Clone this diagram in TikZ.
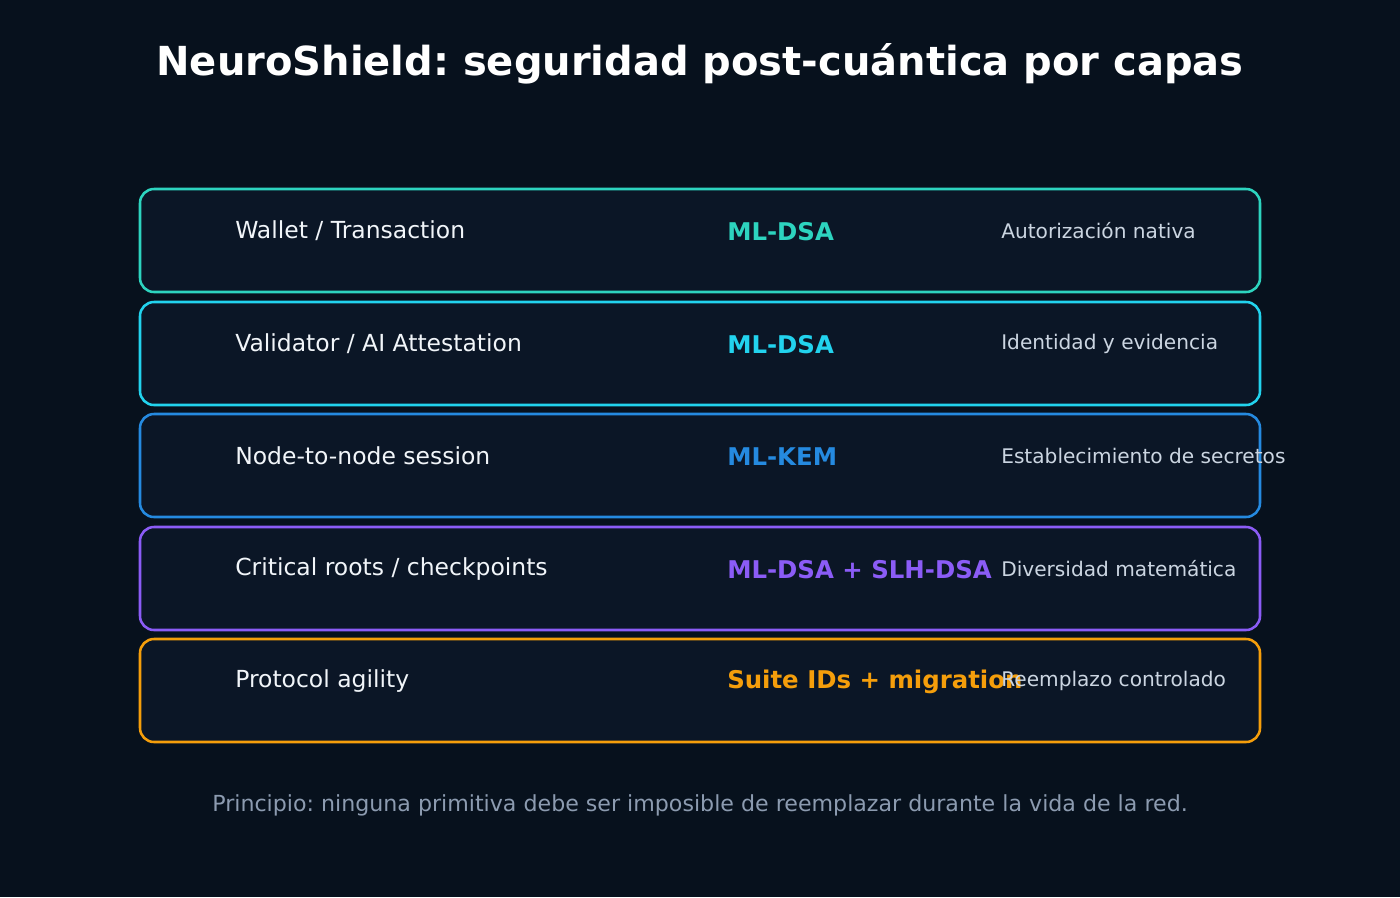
\documentclass[tikz,border=0pt]{standalone}
\usepackage{fontspec}
\setmainfont{DejaVu Sans}
\frenchspacing
\definecolor{bg}{HTML}{07111D}
\definecolor{boxfill}{HTML}{0B1626}
\definecolor{cteal}{HTML}{2DD4BF}
\definecolor{ccyan}{HTML}{22D3EE}
\definecolor{cblue}{HTML}{258AE0}
\definecolor{cpurple}{HTML}{8B5CF6}
\definecolor{corange}{HTML}{F59E0B}
\definecolor{txtmain}{HTML}{F1F5F9}
\definecolor{txtright}{HTML}{CBD5E1}
\definecolor{txtfoot}{HTML}{8C9BB0}
\begin{document}
\begin{tikzpicture}[x=0.75pt,y=-0.75pt,
  layer/.style={draw=#1,line width=1.9pt,fill=boxfill,rounded corners=10.5pt},
  lname/.style={anchor=west,inner sep=0pt,text=txtmain,font=\fontsize{17.6}{21}\selectfont},
  lalgo/.style={anchor=west,inner sep=0pt,text=#1,font=\fontsize{18.3}{22}\selectfont\bfseries},
  lnote/.style={anchor=west,inner sep=0pt,text=txtright,font=\fontsize{15.1}{18}\selectfont}]
\fill[bg] (0,0) rectangle (1400,897);
\useasboundingbox (0,0) rectangle (1400,897);
\node[text=white,font=\fontsize{30}{35}\selectfont\bfseries] (title) at (700,64) {NeuroShield: seguridad post-cuántica por capas};
\foreach \y/\c/\a/\b/\n [count=\i] in {
  189/cteal/{Wallet / Transaction}/{ML-DSA}/{Autorización nativa},
  302/ccyan/{Validator / AI Attestation}/{ML-DSA}/{Identidad y evidencia},
  414/cblue/{Node-to-node session}/{ML-KEM}/{Establecimiento de secretos},
  527/cpurple/{Critical roots / checkpoints}/{ML-DSA + SLH-DSA}/{Diversidad matemática},
  639/corange/{Protocol agility}/{Suite IDs + migration}/{Reemplazo controlado}} {
  \draw[layer=\c] (140,\y) rectangle (1260,\y+103);
  \node[lname] (name\i) at (235,\y+42) {\a};
  \node[lalgo=\c] (algo\i) at (727,\y+43) {\b};
  \node[lnote] (note\i) at (1001,\y+42) {\n};
}
\node[text=txtfoot,font=\fontsize{16.6}{20}\selectfont] (foot) at (700,805) {Principio: ninguna primitiva debe ser imposible de reemplazar durante la vida de la red.};
\end{tikzpicture}
\end{document}
